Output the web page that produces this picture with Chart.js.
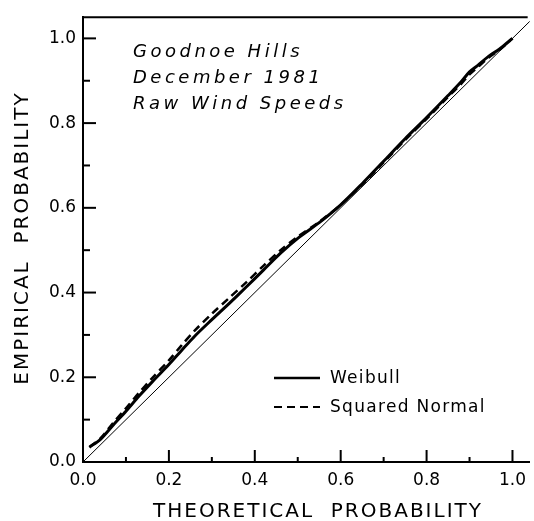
<!DOCTYPE html>
<html>
<head>
<meta charset="utf-8">
<script src="https://cdn.jsdelivr.net/npm/chart.js@4.4.1/dist/chart.umd.min.js"></script>
<style>
  html, body { margin: 0; padding: 0; background: #fff; }
  #wrap { width: 534px; height: 521px; }
</style>
</head>
<body>
<div id="wrap"><canvas id="chart" width="534" height="521"></canvas></div>
<script>
// values
const theoretical = [0.015, 0.04, 0.07, 0.1, 0.13, 0.16, 0.2, 0.23, 0.26, 0.3, 0.34, 0.38, 0.42, 0.46, 0.5, 0.55, 0.6, 0.65, 0.7, 0.75, 0.8, 0.85, 0.88, 0.9, 0.92, 0.945, 0.97, 1.0];
const weibull = [0.035, 0.053, 0.087, 0.12, 0.155, 0.188, 0.23, 0.264, 0.297, 0.336, 0.374, 0.413, 0.453, 0.493, 0.528, 0.565, 0.607, 0.657, 0.71, 0.763, 0.813, 0.865, 0.897, 0.921, 0.937, 0.958, 0.975, 1.0];
const squaredNormal = [0.035, 0.055, 0.092, 0.127, 0.163, 0.197, 0.24, 0.276, 0.31, 0.35, 0.387, 0.424, 0.463, 0.5, 0.532, 0.567, 0.607, 0.655, 0.707, 0.76, 0.81, 0.862, 0.892, 0.915, 0.933, 0.955, 0.973, 1.0];
const diagonal = [0, 1.045];

const majorTicks = [0, 0.2, 0.4, 0.6, 0.8, 1.0];
const minorTicks = [0.1, 0.3, 0.5, 0.7, 0.9];

const noteLines = ['Goodnoe Hills', 'December 1981', 'Raw Wind Speeds'];
const legendLabels = ['Weibull', 'Squared Normal'];
const xTitle = 'THEORETICAL  PROBABILITY';
const yTitle = 'EMPIRICAL  PROBABILITY';

const toPoints = (xs, ys) => xs.map((x, i) => ({ x, y: ys[i] }));
const font = '"DejaVu Sans", sans-serif';

const framePlugin = {
  id: 'frame',
  afterDraw(chart) {
    const { ctx, chartArea: area, scales } = chart;
    ctx.save();
    ctx.strokeStyle = '#000';
    ctx.fillStyle = '#000';

    // open frame: only the top edge is drawn besides the axes
    ctx.lineWidth = 2;
    ctx.beginPath();
    ctx.moveTo(area.left, area.top);
    ctx.lineTo(area.right - 2, area.top);
    ctx.stroke();

    // tick marks point into the plot
    const drawTicks = (scale, values, len) => {
      values.forEach((v) => {
        const p = scale.getPixelForValue(v);
        ctx.beginPath();
        if (scale.isHorizontal()) {
          ctx.moveTo(p, area.bottom);
          ctx.lineTo(p, area.bottom - len);
        } else {
          ctx.moveTo(area.left, p);
          ctx.lineTo(area.left + len, p);
        }
        ctx.stroke();
      });
    };
    drawTicks(scales.x, majorTicks, 12);
    drawTicks(scales.x, minorTicks, 5);
    drawTicks(scales.y, majorTicks, 13);
    drawTicks(scales.y, minorTicks, 7);

    // axis titles
    ctx.font = '20px ' + font;
    ctx.letterSpacing = '2px';
    ctx.textAlign = 'center';
    ctx.textBaseline = 'middle';
    ctx.fillText(xTitle, 318, 512);
    ctx.save();
    ctx.translate(23, 238);
    ctx.rotate(-Math.PI / 2);
    ctx.fillText(yTitle, 0, 0);
    ctx.restore();

    // note in upper left
    ctx.font = 'italic 18px ' + font;
    ctx.letterSpacing = '3.5px';
    ctx.textAlign = 'left';
    ctx.textBaseline = 'alphabetic';
    noteLines.forEach((line, i) => ctx.fillText(line, 133, 57 + i * 26));

    // legend
    ctx.font = '17px ' + font;
    ctx.letterSpacing = '1.3px';
    ctx.textBaseline = 'middle';
    const rows = [378, 407];
    const dashes = [[], [8, 5]];
    const widths = [2.5, 2];
    legendLabels.forEach((label, i) => {
      ctx.lineWidth = widths[i];
      ctx.setLineDash(dashes[i]);
      ctx.beginPath();
      ctx.moveTo(274, rows[i]);
      ctx.lineTo(320, rows[i]);
      ctx.stroke();
      ctx.setLineDash([]);
      ctx.fillText(label, 330, rows[i] + 1);
    });
    ctx.restore();
  },
};

const tickFont = { family: font, size: 17 };

new Chart(document.getElementById('chart'), {
  type: 'scatter',
  data: {
    datasets: [
      {
        label: 'Weibull',
        data: toPoints(theoretical, weibull),
        showLine: true,
        borderColor: '#000',
        borderWidth: 3,
        pointRadius: 0,
        tension: 0.3,
      },
      {
        label: 'Squared Normal',
        data: toPoints(theoretical, squaredNormal),
        showLine: true,
        borderColor: '#000',
        borderWidth: 2.5,
        borderDash: [8, 5],
        pointRadius: 0,
        tension: 0.3,
      },
      {
        label: 'Equality',
        data: toPoints(diagonal, diagonal),
        showLine: true,
        borderColor: '#000',
        borderWidth: 1,
        pointRadius: 0,
      },
    ],
  },
  options: {
    responsive: false,
    animation: false,
    devicePixelRatio: 1,
    layout: { padding: { top: 13, right: 0, left: 0, bottom: 0 } },
    plugins: { legend: { display: false }, tooltip: { enabled: false } },
    scales: {
      x: {
        type: 'linear',
        min: 0,
        max: 1.04,
        afterFit(scale) {
          scale.height = 59;
        },
        grid: { display: false, drawTicks: false },
        border: { display: true, color: '#000', width: 2 },
        ticks: {
          stepSize: 0.2,
          includeBounds: false,
          maxRotation: 0,
          padding: 8,
          color: '#000',
          font: tickFont,
          callback: (v) => v.toFixed(1),
        },
      },
      y: {
        type: 'linear',
        min: 0,
        max: 1.05,
        afterFit(scale) {
          scale.width = 83;
        },
        grid: { display: false, drawTicks: false },
        border: { display: true, color: '#000', width: 2 },
        ticks: {
          stepSize: 0.2,
          includeBounds: false,
          padding: 7,
          color: '#000',
          font: tickFont,
          callback: (v) => v.toFixed(1),
        },
      },
    },
  },
  plugins: [framePlugin],
});
</script>
</body>
</html>
